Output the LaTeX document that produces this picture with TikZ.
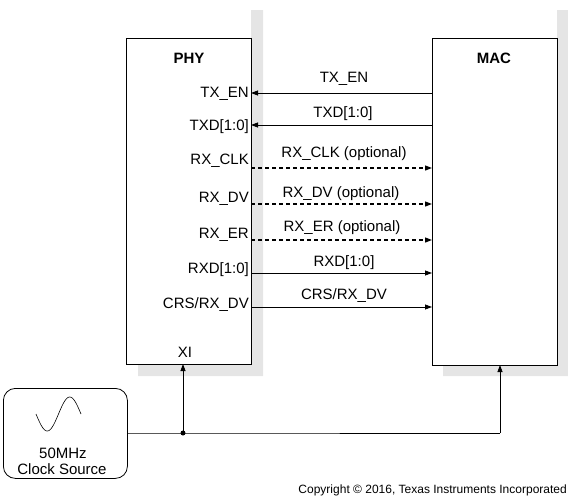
\documentclass[tikz,border=0pt]{standalone}
\usepackage{fontspec}
\setmainfont{Liberation Sans}
\usetikzlibrary{arrows.meta}
\begin{document}
\begin{tikzpicture}[x=1pt,y=-1pt,
  box/.style={draw, line width=0.8pt, fill=white, anchor=north west, inner sep=0pt},
  shadowfill/.style={fill=black!10, draw=none},
  lbl/.style={font=\fontsize{15}{17}\selectfont, inner sep=0pt},
  title/.style={font=\fontsize{15}{17}\selectfont\bfseries, inner sep=0pt},
  sig/.style={line width=0.8pt, -{Triangle[length=7pt,width=5pt]}},
  dsig/.style={sig, line width=1.2pt, dash pattern=on 4pt off 3pt},
  wire/.style={line width=0.8pt},
]
\useasboundingbox (0,0) rectangle (568,499);
% shadows
\fill[shadowfill] (251,10) -- (263,10) -- (263,376) -- (138,376) -- (138,364) -- (251,364) -- cycle;
\fill[shadowfill] (557,10) -- (568,10) -- (568,376) -- (443,376) -- (443,365) -- (557,365) -- cycle;
% boxes
\node[box, minimum width=125pt, minimum height=326pt] (phy) at (126,38) {};
\node[box, minimum width=125pt, minimum height=327pt] (mac) at (432,38) {};
\node[title] (phyt) at (189,58) {PHY};
\node[title] (mact) at (494,58) {MAC};
% PHY pin labels
\node[lbl, anchor=east] (l1) at (249,94) {TX\_EN};
\node[lbl, anchor=east] (l2) at (249,127) {TXD[1:0]};
\node[lbl, anchor=east] (l3) at (249,161) {RX\_CLK};
\node[lbl, anchor=east] (l4) at (249,199) {RX\_DV};
\node[lbl, anchor=east] (l5) at (249,235) {RX\_ER};
\node[lbl, anchor=east] (l6) at (249,270) {RXD[1:0]};
\node[lbl, anchor=east] (l7) at (249,305) {CRS/RX\_DV};
\node[lbl] (xi) at (185,352) {XI};
% signal endpoints
\coordinate (p1) at (251,93);  \coordinate (m1) at (432,93);
\coordinate (p2) at (251,125); \coordinate (m2) at (432,125);
\coordinate (p3) at (251,168); \coordinate (m3) at (432,168);
\coordinate (p4) at (251,204); \coordinate (m4) at (432,204);
\coordinate (p5) at (251,240); \coordinate (m5) at (432,240);
\coordinate (p6) at (251,273); \coordinate (m6) at (432,273);
\coordinate (p7) at (251,307); \coordinate (m7) at (432,307);
\draw[sig] (m1) -- (p1);
\draw[sig] (m2) -- (p2);
\draw[dsig] (p3) -- (m3);
\draw[dsig] (p4) -- (m4);
\draw[dsig] (p5) -- (m5);
\draw[sig] (p6) -- (m6);
\draw[sig] (p7) -- (m7);
% line labels
\node[lbl] (s1) at (344,79) {TX\_EN};
\node[lbl] (s2) at (343,114) {TXD[1:0]};
\node[lbl] (s3) at (344,154) {RX\_CLK (optional)};
\node[lbl] (s4) at (341,194) {RX\_DV (optional)};
\node[lbl] (s5) at (342,228) {RX\_ER (optional)};
\node[lbl] (s6) at (344,263) {RXD[1:0]};
\node[lbl] (s7) at (344,296) {CRS/RX\_DV};
% clock source
\node[draw, line width=0.8pt, rounded corners=12pt, anchor=north west, minimum width=124pt, minimum height=90pt, inner sep=0pt] (clk) at (3,388) {};
\draw[line width=0.6pt, domain=0:360, samples=60, smooth] plot ({36+45*\x/360}, {414+17*sin(\x)});
\node[lbl] (c1) at (63,453) {50MHz};
\node[lbl] (c2) at (62,469) {Clock Source};
\coordinate (clkout) at (127,433);
\coordinate (jn) at (183,433);
\coordinate (xin) at (183,364);
\coordinate (corner) at (500,433);
\coordinate (macin) at (500,365);
\draw[wire] (clkout) -- (jn) -- (corner);
\draw[sig] (corner) -- (macin);
\draw[sig] (jn) -- (xin);
\fill (jn) circle (2.5pt);
% copyright
\node[font=\fontsize{12}{14}\selectfont, anchor=east, inner sep=0pt] (copy) at (567,490) {Copyright © 2016, Texas Instruments Incorporated};
\end{tikzpicture}
\end{document}
